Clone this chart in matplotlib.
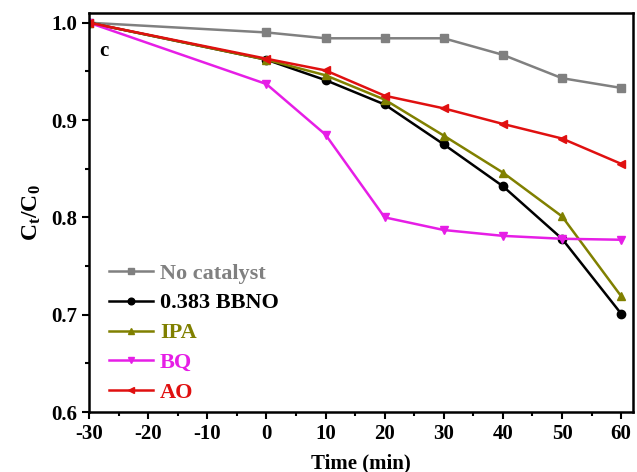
import matplotlib
matplotlib.use('Agg')
import matplotlib.pyplot as plt
from matplotlib.ticker import MultipleLocator

plt.rcParams['font.family'] = 'Liberation Serif'
plt.rcParams['font.weight'] = 'bold'
plt.rcParams['axes.unicode_minus'] = False
plt.rcParams['mathtext.fontset'] = 'custom'
plt.rcParams['mathtext.rm'] = 'Liberation Serif:bold'
plt.rcParams['mathtext.bf'] = 'Liberation Serif:bold'
plt.rcParams['mathtext.it'] = 'Liberation Serif:bold'

time = [-30, 0, 10, 20, 30, 40, 50, 60]
no_catalyst = [1.0, 0.990, 0.984, 0.984, 0.984, 0.967, 0.943, 0.933]
bbno = [1.0, 0.962, 0.941, 0.916, 0.875, 0.832, 0.778, 0.701]
ipa = [1.0, 0.962, 0.946, 0.921, 0.884, 0.846, 0.801, 0.719]
bq = [1.0, 0.937, 0.885, 0.800, 0.787, 0.781, 0.778, 0.777]
ao = [1.0, 0.963, 0.951, 0.925, 0.912, 0.896, 0.881, 0.855]

series = [
    ('No catalyst', no_catalyst, 's', '#808080'),
    ('0.383 BBNO', bbno, 'o', '#000000'),
    ('IPA', ipa, '^', '#808000'),
    ('BQ', bq, 'v', '#e61ee6'),
    ('AO', ao, '<', '#e01010'),
]

fig = plt.figure(figsize=(6.37, 4.72), dpi=100)
ax = fig.add_axes([0.1397, 0.1271, 0.854, 0.8454])

for name, vals, mk, col in series:
    ax.plot(time, vals, marker=mk, color=col, lw=1.8, ms=6, label=name)

ax.set_xlim(-30, 62)
ax.set_ylim(0.6, 1.01)
ax.xaxis.set_major_locator(MultipleLocator(10))
ax.xaxis.set_minor_locator(MultipleLocator(5))
ax.yaxis.set_major_locator(MultipleLocator(0.1))
ax.yaxis.set_minor_locator(MultipleLocator(0.05))
ax.set_xticks(range(-30, 61, 10))
ax.tick_params(which='major', direction='out', length=5, width=1.5, labelsize=15)
ax.tick_params(which='minor', direction='out', length=3, width=1.5)
for sp in ax.spines.values():
    sp.set_linewidth(1.8)

ax.set_xlabel('Time (min)', fontsize=15, fontweight='bold', labelpad=7)
ax.set_ylabel('$\\mathrm{C_t/C_0}$', fontsize=17, labelpad=6)
ax.text(-28.3, 0.966, 'c', fontsize=15, fontweight='bold')

leg = ax.legend(loc='lower left', bbox_to_anchor=(0.02, 0.0), frameon=False,
                fontsize=16, handlelength=2.0, handletextpad=0.3,
                labelspacing=0.42, borderaxespad=0.0, borderpad=0.4,
                markerscale=0.8)
for txt, (name, vals, mk, col) in zip(leg.get_texts(), series):
    txt.set_color(col)

fig.savefig('out.png', dpi=100)
